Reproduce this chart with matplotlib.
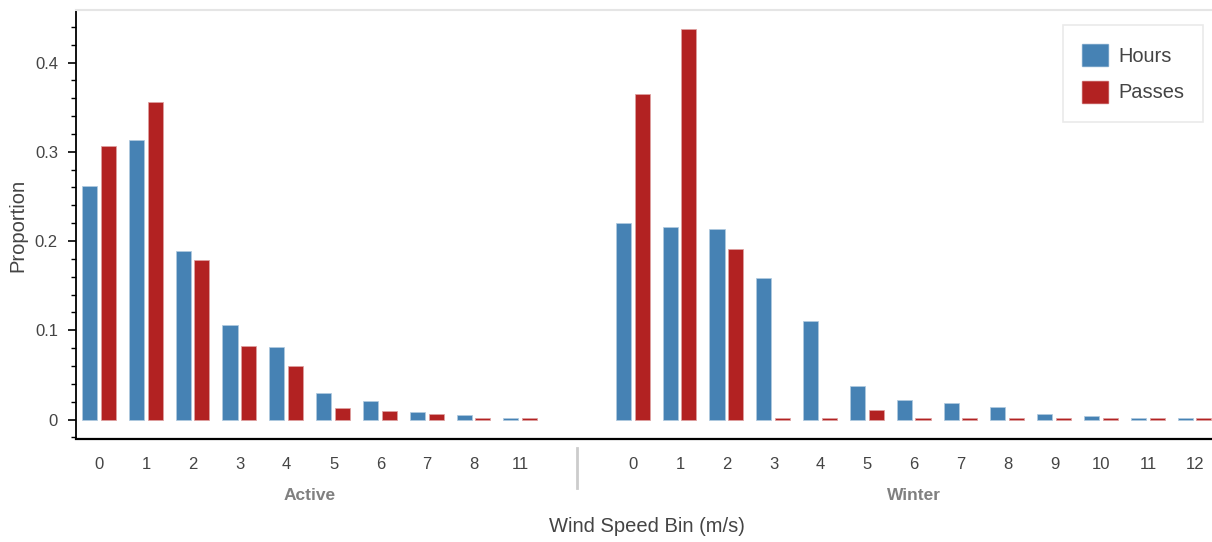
import matplotlib.pyplot as plt
from matplotlib.patches import Patch
from matplotlib.transforms import blended_transform_factory

plt.rcParams['font.family'] = ['Liberation Sans', 'DejaVu Sans']

# data
groups = ["Active", "Winter"]
active_bins = ["0", "1", "2", "3", "4", "5", "6", "7", "8", "11"]
winter_bins = ["0", "1", "2", "3", "4", "5", "6", "7", "8", "9", "10", "11", "12"]

active_hours = [0.260, 0.312, 0.188, 0.105, 0.080, 0.029, 0.020, 0.007, 0.004, 0.001]
active_passes = [0.305, 0.355, 0.178, 0.081, 0.059, 0.012, 0.008, 0.005, 0.001, 0.001]
winter_hours = [0.219, 0.215, 0.212, 0.157, 0.109, 0.036, 0.021, 0.017, 0.013, 0.005, 0.003, 0.001, 0.001]
winter_passes = [0.364, 0.437, 0.190, 0.001, 0.001, 0.009, 0.001, 0.001, 0.001, 0.001, 0.001, 0.001, 0.001]

hours_color = "#4682b4"
passes_color = "#b22222"
group_pad = 1.4

# nested categorical positions (bokeh style: 1 unit per factor, padding between groups)
act_x = [i + 0.5 for i in range(len(active_bins))]
win_start = len(active_bins) + group_pad
win_x = [win_start + i + 0.5 for i in range(len(winter_bins))]
x_end = win_start + len(winter_bins)

fig = plt.figure(figsize=(12.12, 5.42), dpi=100)
ax = fig.add_axes([76 / 1212, 1 - 439 / 542, (1218.5 - 76) / 1212, (439 - 10) / 542])

xs = act_x + win_x
hours = active_hours + winter_hours
passes = active_passes + winter_passes
w = 0.3
ax.bar([x - 0.2 for x in xs], hours, width=w, color=hours_color,
       edgecolor=hours_color + "88", linewidth=1.2)
ax.bar([x + 0.2 for x in xs], passes, width=w, color=passes_color,
       edgecolor=passes_color + "88", linewidth=1.2)

ymax = max(hours + passes)
ax.set_ylim(-0.05 * ymax, 1.05 * ymax)
ax.set_xlim(0, x_end)

# spines
for s in ["top", "right"]:
    ax.spines[s].set_color("#e5e5e5")
    ax.spines[s].set_linewidth(1.5)
ax.spines["left"].set_linewidth(1.3)
ax.spines["bottom"].set_linewidth(1.6)

ax.set_yticks([0, 0.1, 0.2, 0.3, 0.4])
ax.set_yticklabels(["0", "0.1", "0.2", "0.3", "0.4"])
ax.set_yticks([-0.02 + 0.02 * i for i in range(24)], minor=True)
ax.tick_params(axis="y", which="major", length=6, width=1.2, direction="out",
               labelsize=12, labelcolor="#444444", pad=7)
ax.tick_params(axis="y", which="minor", length=3.6, width=1.0, direction="out")
fig.text(18 / 1212, 1 - 225 / 542, "Proportion", rotation=90, ha="center", va="center",
         fontsize=14.5, color="#444444")

ax.set_xticks(xs)
ax.set_xticklabels(active_bins + winter_bins)
ax.tick_params(axis="x", length=0, labelsize=12, labelcolor="#444444", pad=13)

trans = blended_transform_factory(ax.transData, ax.transAxes)
ax.annotate(groups[0], xy=(len(active_bins) / 2, 0), xycoords=trans,
            xytext=(0, -40.5), textcoords="offset points", ha="center", va="center",
            fontsize=12.5, fontweight="bold", color="#808080")
ax.annotate(groups[1], xy=(win_start + len(winter_bins) / 2, 0), xycoords=trans,
            xytext=(0, -40.5), textcoords="offset points", ha="center", va="center",
            fontsize=12.5, fontweight="bold", color="#808080")

# group separator
sep_x = len(active_bins) + group_pad / 2
ax.plot([sep_x, sep_x], [-0.02, -0.115], transform=trans, color="#cccccc",
        linewidth=2, clip_on=False)

fig.text(647 / 1212, 1 - 527 / 542, "Wind Speed Bin (m/s)", ha="center", va="center",
         fontsize=14.5, color="#444444")

handles = [Patch(facecolor=hours_color, edgecolor=hours_color + "88"),
           Patch(facecolor=passes_color, edgecolor=passes_color + "88")]
leg = fig.legend(handles, ["Hours", "Passes"], loc="upper right",
                 bbox_to_anchor=(1203 / 1212, 1 - 25 / 542), borderaxespad=0,
                 fontsize=14.4, frameon=True, fancybox=False,
                 handlelength=1.3, handleheight=1.3, handletextpad=0.5,
                 labelspacing=0.75, borderpad=0.95)
leg.get_frame().set_edgecolor("#e5e5e5")
leg.get_frame().set_linewidth(1.2)
for t in leg.get_texts():
    t.set_color("#444444")

fig.savefig("out.png", dpi=100)
